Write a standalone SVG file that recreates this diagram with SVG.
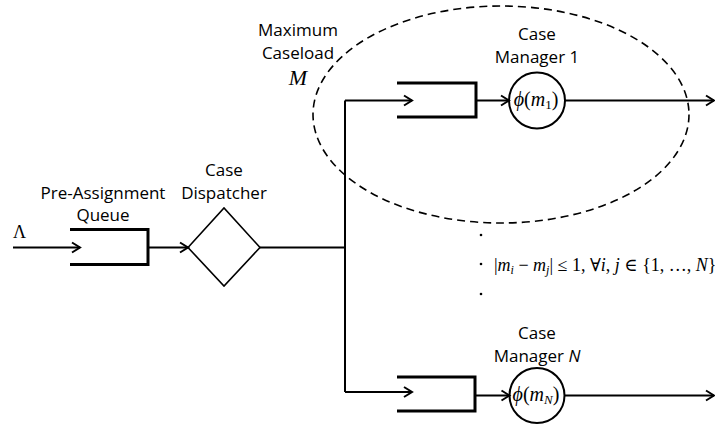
<svg xmlns="http://www.w3.org/2000/svg" width="715" height="426" viewBox="0 0 715 426">
<defs>
<marker id="arr" markerUnits="userSpaceOnUse" markerWidth="14" markerHeight="14" refX="10" refY="7" orient="auto">
<path d="M2,2 L10,7 L2,12" fill="none" stroke="#000" stroke-width="2"/>
</marker>
<style>
.lbl{font-family:"Open Sans","Liberation Sans",sans-serif;font-size:17px;fill:#000;text-anchor:middle}
.math{font-family:"Liberation Serif","DejaVu Serif",serif;font-size:18px;fill:#000}
.q{fill:none;stroke:#000;stroke-width:3}
.ln{fill:none;stroke:#000;stroke-width:2}
</style>
</defs>
<rect width="715" height="426" fill="#fff"/>

<g id="caseload">
<ellipse cx="501" cy="114.5" rx="188" ry="108.5" fill="none" stroke="#000" stroke-width="1.6" stroke-dasharray="8,5"/>
<text class="lbl" x="298" y="36">Maximum</text>
<text class="lbl" x="298" y="59">Caseload</text>
<text class="math" x="298" y="85" style="text-anchor:middle;font-style:italic;font-size:22px">M</text>
</g>

<g id="lambda"><text class="math" x="13" y="238" style="font-size:18px">Λ</text></g>

<g id="preQueue">
<path class="q" d="M70,229.5 H148 V264.5 H70"/>
<text class="lbl" x="103" y="199">Pre-Assignment</text>
<text class="lbl" x="103" y="221">Queue</text>
</g>

<g id="dispatcher">
<polygon points="188,247.5 224,208 260,247.5 224,286" fill="#fff" stroke="#000" stroke-width="1.6"/>
<text class="lbl" x="224" y="176">Case</text>
<text class="lbl" x="224" y="199">Dispatcher</text>
</g>

<g id="queue1"><path class="q" d="M397,83 H476 V117 H397"/></g>
<g id="manager1">
<circle cx="537" cy="100.5" r="28" fill="#fff" stroke="#000" stroke-width="2"/>
<text class="math" x="536" y="106" style="text-anchor:middle;font-size:20px"><tspan font-style="italic">ϕ</tspan>(<tspan font-style="italic">m</tspan><tspan font-size="13" dy="3">1</tspan><tspan dy="-3">)</tspan></text>
<text class="lbl" x="537" y="40">Case</text>
<text class="lbl" x="537" y="63">Manager 1</text>
</g>

<g id="queueN"><path class="q" d="M397,377 H475 V411 H397"/></g>
<g id="managerN">
<circle cx="537" cy="395.5" r="27.5" fill="#fff" stroke="#000" stroke-width="2"/>
<text class="math" x="536" y="401" style="text-anchor:middle;font-size:20px"><tspan font-style="italic">ϕ</tspan>(<tspan font-style="italic">m</tspan><tspan font-size="13" dy="3" font-style="italic">N</tspan><tspan dy="-3">)</tspan></text>
<text class="lbl" x="537" y="339">Case</text>
<text class="lbl" x="537" y="362">Manager <tspan font-style="italic">N</tspan></text>
</g>

<g id="constraint">
<circle cx="481" cy="235" r="1.3" fill="#000"/>
<circle cx="481" cy="264" r="1.3" fill="#000"/>
<circle cx="481" cy="294" r="1.3" fill="#000"/>
<text class="math" x="494" y="271">|<tspan font-style="italic">m</tspan><tspan font-size="12" dy="3" font-style="italic">i</tspan><tspan dy="-3"> − </tspan><tspan font-style="italic">m</tspan><tspan font-size="12" dy="3" font-style="italic">j</tspan><tspan dy="-3">| ≤ 1, ∀</tspan><tspan font-style="italic">i</tspan>, <tspan font-style="italic">j</tspan> ∈ {1, …, <tspan font-style="italic">N</tspan>}</text>
</g>

<g id="connectors">
<line class="ln" x1="13" y1="247.5" x2="80" y2="247.5" marker-end="url(#arr)"/>
<line class="ln" x1="148" y1="247.5" x2="188" y2="247.5" marker-end="url(#arr)"/>
<line class="ln" x1="260" y1="247.5" x2="345" y2="247.5"/>
<line class="ln" x1="345" y1="100.5" x2="345" y2="392"/>
<polyline class="ln" points="345,100.5 412,100.5" marker-end="url(#arr)"/>
<polyline class="ln" points="345,392 412,392" marker-end="url(#arr)"/>
<line class="ln" x1="476" y1="100.5" x2="509" y2="100.5" marker-end="url(#arr)"/>
<line class="ln" x1="475" y1="395.5" x2="509.5" y2="395.5" marker-end="url(#arr)"/>
<line class="ln" x1="565" y1="100.5" x2="714" y2="100.5" marker-end="url(#arr)"/>
<line class="ln" x1="564.5" y1="395.5" x2="714" y2="395.5" marker-end="url(#arr)"/>
</g>
</svg>
